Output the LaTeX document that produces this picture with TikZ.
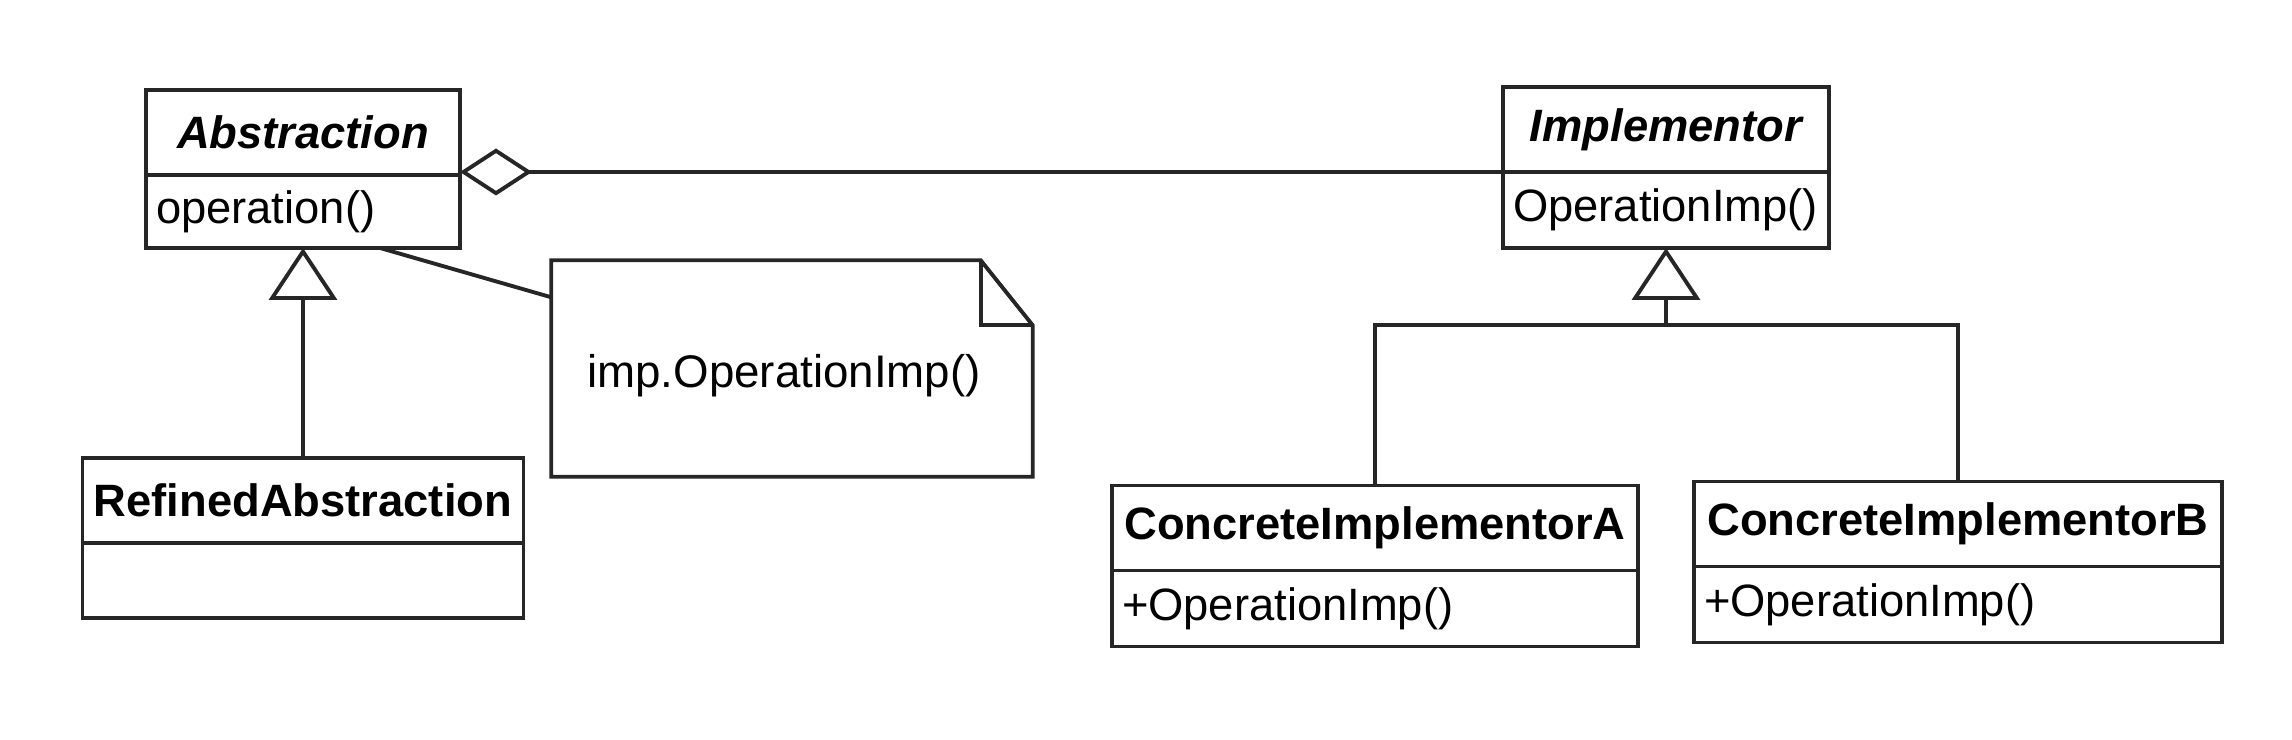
\documentclass[tikz,border=0pt]{standalone}
\usepackage{fontspec}
\setmainfont{Liberation Sans}
\usetikzlibrary{arrows.meta,positioning}

\begin{document}
\begin{tikzpicture}
  \useasboundingbox (0, 0) rectangle (22.92, 7.40);

  \tikzstyle{line}=[draw=black!85, line width=1.1pt]
  \tikzstyle{cls}=[line, rectangle, minimum height=.85cm, inner sep=0pt, outer sep=0pt, font=\fontsize{12.9}{15}\selectfont\bfseries]
  \tikzstyle{abstract}=[font=\fontsize{12.9}{15}\selectfont\bfseries\itshape]
  \tikzstyle{ops}=[line, rectangle, minimum height=.76cm, inner xsep=.1cm, inner ysep=0pt, outer sep=0pt, align=left, anchor=north, font=\fontsize{12.9}{15}\selectfont]
  \tikzstyle{inherit}=[line, -{Triangle[open, width=.68cm, length=.52cm]}]
  \tikzstyle{aggregate}=[line, {Diamond[open, width=.47cm, length=.72cm]}-]

  \node[cls, abstract, minimum width=3.14cm] (abs) at (3.03, 6.075) {Abstraction};
  \node[ops, text width=2.94cm, minimum height=.73cm] (abs-ops) at (abs.south) {operation()};

  \node[cls, abstract, minimum width=3.26cm] (impl) at (16.66, 6.105) {Implementor};
  \node[ops, text width=3.06cm] (impl-ops) at (impl.south) {OperationImp()};

  \node[cls, minimum width=4.41cm] (ref) at (3.03, 2.395) {RefinedAbstraction};
  \node[ops, text width=4.21cm, minimum height=.75cm] (ref-ops) at (ref.south) {};

  \node[cls, minimum width=5.26cm] (cia) at (13.75, 2.12) {ConcreteImplementorA};
  \node[ops, text width=5.06cm] (cia-ops) at (cia.south) {+OperationImp()};

  \node[cls, minimum width=5.28cm] (cib) at (19.58, 2.16) {ConcreteImplementorB};
  \node[ops, text width=5.08cm] (cib-ops) at (cib.south) {+OperationImp()};

  % note with folded corner
  \node[minimum width=4.80cm, minimum height=2.15cm, inner sep=0pt] (note) at (7.92, 3.715) {};
  \node[font=\fontsize{13}{15}\selectfont] (note-text) at (7.84, 3.64) {imp.OperationImp()};
  \draw[line] (note.south west) -- (note.north west) -- ([xshift=-.52cm]note.north east)
    -- ([yshift=-.65cm]note.north east) -- (note.south east) -- cycle;
  \draw[line] ([xshift=-.52cm]note.north east) |- ([yshift=-.65cm]note.north east);

  \coordinate (join) at (16.66, 4.15);

  \path[aggregate] (abs.east |- impl.south west) -- (impl.south west);
  \path[inherit] (ref.north) -- (abs-ops.south);
  \path[line] ([xshift=.77cm]abs-ops.south) -- ([yshift=-.37cm]note.north west);
  \path[line] (cia.north) |- (join) -| (cib.north);
  \path[inherit] (join) -- (impl-ops.south);
\end{tikzpicture}
\end{document}
